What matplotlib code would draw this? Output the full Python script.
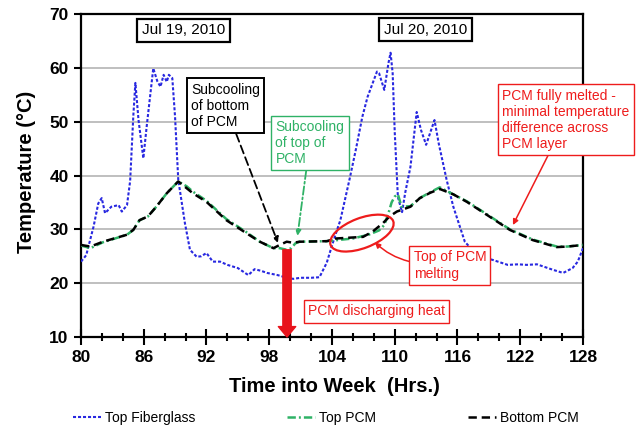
import matplotlib
matplotlib.use("Agg")
import matplotlib.pyplot as plt
import numpy as np
from matplotlib.patches import Ellipse
from matplotlib.transforms import Affine2D

plt.rcParams["font.family"] = ["Liberation Sans", "DejaVu Sans"]
plt.rcParams["lines.scale_dashes"] = False

# ---- measured temperatures (hours into week, deg C) ----
fiber_hours = [80.0, 80.5, 81.2, 81.65, 81.98, 82.3, 82.9, 83.6, 83.9, 84.4, 84.7,
               85.0, 85.2, 85.5, 85.96, 86.28, 86.91, 87.3, 87.6, 87.9, 88.2, 88.4,
               88.73, 88.99, 89.3, 89.94, 90.42, 91.06, 91.5, 92.0, 92.6, 93.3, 94.0,
               95.0, 96.0, 96.6, 97.2, 97.8, 98.8, 99.7, 100.3, 101.0, 102.0, 102.8,
               103.5, 104.0, 104.5, 104.8, 105.7, 106.3, 106.9, 107.4, 108.3, 108.5,
               109.0, 109.4, 109.6, 109.8, 110.0, 110.3, 110.7, 111.0, 111.5, 112.1,
               112.5, 113.0, 113.4, 113.8, 114.2, 114.96, 115.6, 116.7, 117.5, 118.3,
               119.4, 120.8, 121.8, 122.6, 123.6, 125.1, 126.1, 127.0, 127.5, 128.0]
fiber_temp = [24.0, 25.2, 30.5, 34.8, 35.8, 33.0, 34.2, 34.5, 33.3, 34.5, 39.0,
              51.0, 57.2, 50.3, 43.2, 49.1, 59.9, 57.5, 56.5, 58.7, 57.4, 58.7,
              58.1, 51.0, 39.2, 31.1, 26.2, 24.9, 25.0, 25.6, 24.0, 24.0, 23.4,
              22.8, 21.5, 22.6, 22.3, 21.9, 21.5, 21.0, 20.8, 21.0, 21.0, 21.1,
              23.8, 27.0, 30.0, 31.7, 39.5, 45.0, 50.9, 54.6, 59.3, 59.0,
              55.9, 60.9, 62.8, 59.0, 48.0, 36.0, 33.2, 36.8, 41.6, 51.8,
              48.5, 45.7, 48.0, 50.3, 46.0, 39.2, 34.2, 27.7, 26.0, 24.9,
              24.3, 23.4, 23.5, 23.4, 23.5, 22.5, 21.9, 22.8, 24.0, 26.5]

top_pcm_hours = [80.0, 80.9, 82.1, 84.4, 85.0, 85.6, 86.4, 87.2, 88.2, 89.3, 90.1,
                 90.7, 92.0, 93.9, 95.8, 97.1, 98.4, 99.0, 99.67, 100.1, 100.5,
                 100.9, 103.5, 104.5, 106.0, 107.5, 108.5, 109.0, 109.4, 109.7,
                 110.0, 110.3, 110.65, 111.5, 112.4, 113.4, 114.3, 115.3, 116.9,
                 118.8, 121.0, 123.2, 125.5, 126.5, 128.0]
top_pcm_temp = [27.0, 26.5, 27.6, 29.0, 29.9, 31.7, 32.4, 34.2, 36.7, 38.9, 38.0,
                37.0, 35.3, 31.9, 29.5, 27.7, 26.5, 26.5, 26.2, 26.5, 27.4,
                27.7, 27.8, 28.0, 28.3, 29.0, 29.8, 30.8, 33.0, 35.0,
                36.1, 36.5, 34.2, 34.3, 35.8, 36.9, 37.8, 36.8, 35.2,
                32.8, 30.0, 28.1, 26.8, 26.8, 27.1]

bottom_pcm_hours = [80.0, 80.9, 82.1, 84.4, 85.0, 85.6, 86.4, 87.2, 88.2, 89.3,
                    90.7, 92.0, 93.9, 95.8, 97.1, 98.4, 99.0, 99.67, 100.3, 100.9,
                    103.5, 104.4, 106.97, 107.9, 108.9, 109.5, 110.2, 111.5, 112.4,
                    113.4, 114.3, 115.6, 116.9, 118.8, 121.0, 123.2, 125.5, 126.5,
                    128.0]
bottom_pcm_temp = [27.1, 26.8, 27.7, 29.0, 29.9, 31.7, 32.4, 34.2, 36.7, 38.9,
                   36.7, 35.1, 31.7, 29.3, 27.7, 26.5, 27.1, 27.7, 27.5, 27.7,
                   27.8, 28.3, 28.6, 29.6, 31.2, 32.4, 33.3, 34.2, 35.8,
                   36.8, 37.5, 36.5, 35.1, 32.7, 29.9, 28.0, 26.7, 26.8,
                   27.1]

x_ticks = [80, 86, 92, 98, 104, 110, 116, 122, 128]
y_ticks = [10, 20, 30, 40, 50, 60, 70]

RED = "#ee1c1c"
GREEN = "#2fb266"
BLUE = "#2828e0"

fig = plt.figure(figsize=(6.43, 4.29), dpi=100)
ax = fig.add_axes([81 / 643, 1 - 337 / 429, 502 / 643, 323 / 429])

ax.plot(fiber_hours, fiber_temp, color=BLUE, lw=1.5, dashes=(2.2, 1.4),
        label="Top Fiberglass", zorder=3)
ax.plot(top_pcm_hours, top_pcm_temp, color=GREEN, lw=1.8,
        dashes=(6, 2.2, 1.4, 2.2), label="Top PCM", zorder=4)
ax.plot(bottom_pcm_hours, bottom_pcm_temp, color="black", lw=1.8,
        dashes=(6, 3.5), label="Bottom PCM", zorder=5)

ax.set_xlim(80, 128)
ax.set_ylim(10, 70)
ax.set_xticks(x_ticks)
ax.set_xticks(np.arange(80, 129, 2), minor=True)
ax.set_yticks(y_ticks)
ax.tick_params(axis="x", which="major", direction="inout", length=11, width=1.5,
               labelsize=12.5, pad=4)
ax.tick_params(axis="x", which="minor", direction="inout", length=6, width=1.5)
ax.tick_params(axis="y", which="major", direction="out", length=5, width=1.5,
               labelsize=12.5, pad=4)
for lab in ax.get_xticklabels() + ax.get_yticklabels():
    lab.set_fontweight("bold")
for sp in ax.spines.values():
    sp.set_linewidth(1.6)
ax.grid(axis="y", color="#b4b4b4", lw=1.2)
ax.set_axisbelow(True)

ax.set_xlabel("Time into Week  (Hrs.)", fontsize=14.5, fontweight="bold")
ax.set_ylabel("Temperature (\u00b0C)", fontsize=14.5, fontweight="bold")
ax.xaxis.set_label_coords(0.504, -0.125)
ax.yaxis.set_label_coords(-0.09, 0.51)

# date boxes
date_box = dict(boxstyle="square,pad=0.3", fc="white", ec="black", lw=1.6)
ax.text(89.8, 66.97, "Jul 19, 2010", fontsize=11, ha="center", va="center",
        bbox=date_box, zorder=6)
ax.text(112.93, 67.06, "Jul 20, 2010", fontsize=11, ha="center", va="center",
        bbox=date_box, zorder=6)

# subcooling callouts
ax.annotate("Subcooling\nof bottom\nof PCM", xy=(98.83, 27.5), xytext=(93.81, 52.94),
            fontsize=10, ha="center", va="center", multialignment="left",
            bbox=dict(boxstyle="square,pad=0.3", fc="white", ec="black", lw=1.4),
            arrowprops=dict(arrowstyle="-|>", color="black", lw=1.3,
                            linestyle=(0, (6, 3)), shrinkA=0, shrinkB=0,
                            mutation_scale=8),
            zorder=7)
ax.annotate("Subcooling\nof top of\nPCM", xy=(100.7, 28.8), xytext=(101.89, 46.06),
            fontsize=10, color=GREEN, ha="center", va="center", multialignment="left",
            bbox=dict(boxstyle="square,pad=0.3", fc="white", ec=GREEN, lw=1.0),
            arrowprops=dict(arrowstyle="-|>", color=GREEN, lw=1.3,
                            linestyle=(0, (6, 2, 1.4, 2)), shrinkA=0, shrinkB=0,
                            mutation_scale=8),
            zorder=7)

# melting callouts
ax.annotate("PCM fully melted -\nminimal temperature\ndifference across\nPCM layer",
            xy=(121.3, 30.8), xytext=(126.37, 50.33), fontsize=10, color=RED,
            ha="center", va="center", multialignment="left",
            bbox=dict(boxstyle="square,pad=0.3", fc="white", ec=RED, lw=1.0),
            arrowprops=dict(arrowstyle="-|>", color=RED, lw=1.1, shrinkA=0,
                            shrinkB=0, mutation_scale=8),
            annotation_clip=False, zorder=7)
ax.annotate("Top of PCM\nmelting", xy=(108.1, 27.6), xytext=(115.28, 23.29),
            fontsize=10, color=RED, ha="center", va="center", multialignment="left",
            bbox=dict(boxstyle="square,pad=0.3", fc="white", ec=RED, lw=1.0),
            arrowprops=dict(arrowstyle="-|>", color=RED, lw=1.1, shrinkA=0,
                            shrinkB=0, mutation_scale=8,
                            connectionstyle="arc3,rad=-0.15",
                            relpos=(0.0, 0.6)),
            zorder=7)
ax.text(108.25, 14.74, "PCM discharging heat", fontsize=10, color=RED,
        ha="center", va="center",
        bbox=dict(boxstyle="square,pad=0.3", fc="white", ec=RED, lw=1.0), zorder=7)

# heat discharge arrow
ax.annotate("", xy=(99.7, 10), xytext=(99.7, 26.2),
            arrowprops=dict(arrowstyle="simple,head_length=0.75,head_width=1.25,tail_width=0.6",
                            color="#e8141c", shrinkA=0, shrinkB=0, mutation_scale=10),
            annotation_clip=False, zorder=8)

# melting region marker
cx, cy = ax.transData.transform((106.86, 29.3))
ring = Ellipse((0, 0), 67, 30, angle=21, fill=False, ec=RED, lw=1.6,
               transform=Affine2D().translate(cx, cy), zorder=8)
fig.add_artist(ring)

fig.legend(loc="center", bbox_to_anchor=(0.507, 0.026), ncol=3, frameon=False,
           fontsize=10, handlelength=2.0, handletextpad=0.3, columnspacing=6.6)

fig.savefig("out.png", dpi=100)
